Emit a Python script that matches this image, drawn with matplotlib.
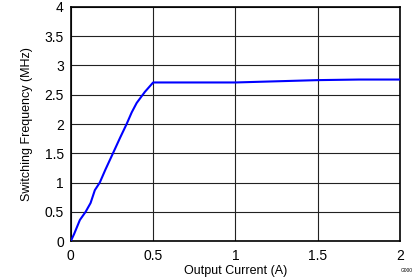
import numpy as np
import matplotlib
matplotlib.use('Agg')
import matplotlib.pyplot as plt

plt.rcParams['font.family'] = ['Liberation Sans', 'DejaVu Sans']

# switching frequency vs output current
current = [0, 0.02, 0.055, 0.09, 0.12, 0.146, 0.176, 0.21, 0.256, 0.3, 0.339, 0.37, 0.4, 0.45, 0.5,
           0.75, 1.0, 1.25, 1.5, 1.75, 2.0]
freq = [0, 0.12, 0.36, 0.5, 0.65, 0.87, 1.0, 1.22, 1.5, 1.77, 2.0, 2.2, 2.36, 2.55, 2.71,
        2.71, 2.71, 2.73, 2.75, 2.76, 2.76]

x_ticks = [0, 0.5, 1, 1.5, 2]
x_labels = ['0', '0.5', '1', '1.5', '2']
y_ticks = [0, 0.5, 1, 1.5, 2, 2.5, 3, 3.5, 4]
y_labels = ['0', '0.5', '1', '1.5', '2', '2.5', '3', '3.5', '4']

fig = plt.figure(figsize=(4.19, 2.79), dpi=100)
ax = fig.add_axes([0.169, 0.136, 0.786, 0.839])
ax.plot(current, freq, color='#0000ff', linewidth=1.5, zorder=3)
ax.set_xlim(0, 2)
ax.set_ylim(0, 4)
ax.set_xticks(x_ticks)
ax.set_xticklabels(x_labels)
ax.set_yticks(y_ticks)
ax.set_yticklabels(y_labels)
ax.tick_params(axis='x', length=0, labelsize=10, pad=6)
ax.tick_params(axis='y', length=0, labelsize=10, pad=5)
ax.grid(True, color='#222222', linewidth=0.8)
for s in ax.spines.values():
    s.set_linewidth(1.2)
ax.set_xlabel('Output Current (A)', fontsize=9, labelpad=1)
ax.set_ylabel('Switching Frequency (MHz)', fontsize=9, labelpad=8)
fig.text(0.985, 0.02, 'G000', fontsize=3.5, ha='right', va='bottom')

fig.savefig('out.png', dpi=100)
